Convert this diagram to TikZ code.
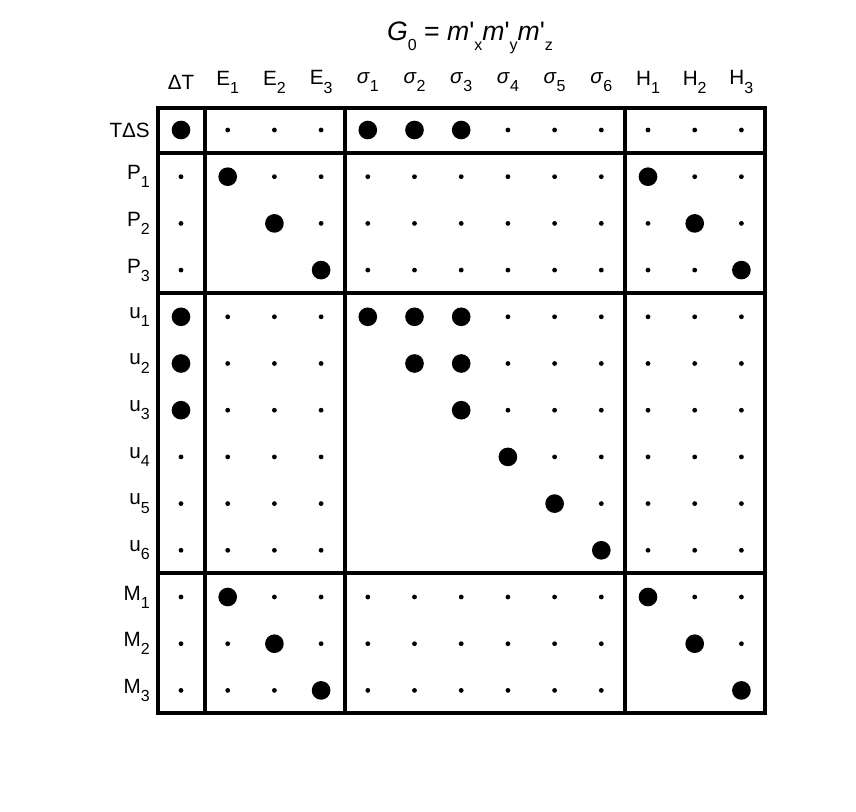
\documentclass[tikz,border=0pt]{standalone}
\usepackage{fontspec}
\setmainfont{Liberation Sans}
\newcommand\lo[1]{\raisebox{-0.75ex}{\fontsize{12}{14}\selectfont #1}}

\tikzset{
    lbl/.style={font={\fontsize{15.5}{18}\selectfont}, inner sep=0pt},
    dot b/.style={circle, fill=black, minimum size=14pt, inner sep=0pt},
    dot s/.style={circle, fill=black, minimum size=3.6pt, inner sep=0pt},
    dot n/.style={inner sep=0pt, minimum size=0pt},
    frame/.style={line width=2.5pt},
}

\begin{document}
\begin{tikzpicture}[x=0.75pt, y=-0.75pt]
    \useasboundingbox (0,0) rectangle (856,812);

    % title
    \node[font={\fontsize{20}{22}\selectfont}] (title) at (470,38)
        {\textit{G}\lo{0} = \textit{m}\textquotesingle\lo{x}\textit{m}\textquotesingle\lo{y}\textit{m}\textquotesingle\lo{z}};

    % column heads
    \foreach \t [count=\k from 0] in {ΔT, E\lo{1}, E\lo{2}, E\lo{3},
        \textit{σ}\lo{1}, \textit{σ}\lo{2}, \textit{σ}\lo{3}, \textit{σ}\lo{4},
        \textit{σ}\lo{5}, \textit{σ}\lo{6}, H\lo{1}, H\lo{2}, H\lo{3}}
        \node[lbl] (col-\k) at ({181+46.7*\k},82) {\t};

    % row heads
    \foreach \t [count=\r from 0] in {TΔS, P\lo{1}, P\lo{2}, P\lo{3},
        u\lo{1}, u\lo{2}, u\lo{3}, u\lo{4}, u\lo{5}, u\lo{6},
        M\lo{1}, M\lo{2}, M\lo{3}}
        \node[lbl, anchor=east] (row-\r) at (150,{130+46.7*\r}) {\t};

    % entries
    \foreach \line [count=\r from 0] in {
        {b,s,s,s,b,b,b,s,s,s,s,s,s},
        {s,b,s,s,s,s,s,s,s,s,b,s,s},
        {s,n,b,s,s,s,s,s,s,s,s,b,s},
        {s,n,n,b,s,s,s,s,s,s,s,s,b},
        {b,s,s,s,b,b,b,s,s,s,s,s,s},
        {b,s,s,s,n,b,b,s,s,s,s,s,s},
        {b,s,s,s,n,n,b,s,s,s,s,s,s},
        {s,s,s,s,n,n,n,b,s,s,s,s,s},
        {s,s,s,s,n,n,n,n,b,s,s,s,s},
        {s,s,s,s,n,n,n,n,n,b,s,s,s},
        {s,b,s,s,s,s,s,s,s,s,b,s,s},
        {s,s,b,s,s,s,s,s,s,s,n,b,s},
        {s,s,s,b,s,s,s,s,s,s,n,n,b}}
        \foreach \c [count=\k from 0] in \line
            \node[dot \c] (d-\r-\k) at ({181+46.7*\k},{130+46.7*\r}) {};

    % blocks
    \draw[frame] (158,108) rectangle (765,713);
    \foreach \x in {205,345,625}
        \draw[frame] (\x,108) -- (\x,713);
    \foreach \y in {153,293,573}
        \draw[frame] (158,\y) -- (765,\y);
\end{tikzpicture}
\end{document}
